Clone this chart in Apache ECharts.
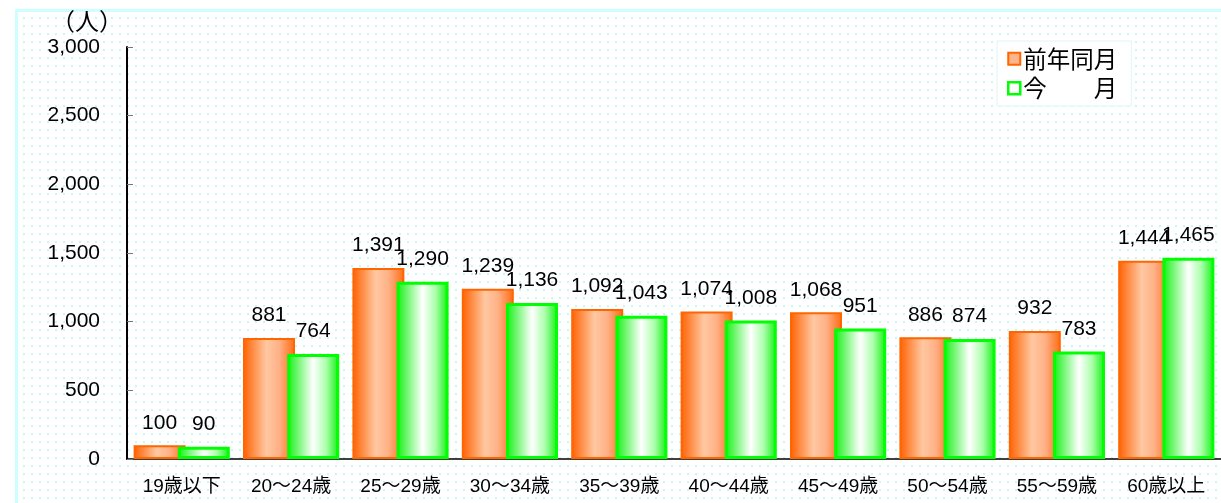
<!DOCTYPE html>
<html>
<head>
<meta charset="utf-8">
<script src="https://cdn.jsdelivr.net/npm/echarts@6/dist/echarts.min.js"></script>
<style>
html,body{margin:0;padding:0;background:#fff;overflow:hidden}
#frame{position:absolute;left:15px;top:9px;width:1300px;height:600px;
border-left:3px solid #ccffff;border-top:3px solid #ccffff;
background-image:radial-gradient(circle,#c6f6f6 1px,transparent 1.3px);
background-size:8px 8px;background-position:2px 2px}
#chart{position:absolute;left:0;top:0;width:1221px;height:503px}
</style>
</head>
<body>
<div id="frame"></div>
<div id="chart"></div>
<script>

// age groups
const categories = ["19歳以下","20～24歳","25～29歳","30～34歳","35～39歳","40～44歳","45～49歳","50～54歳","55～59歳","60歳以上"]

const lastYear = [100,881,1391,1239,1092,1074,1068,886,932,1444]
const thisMonth = [90,764,1290,1136,1043,1008,951,874,783,1465]

const seriesNames = ["前年同月","今　　月"]

const font = "'Liberation Sans','Noto Sans CJK JP',sans-serif"
const jpFont = "'Noto Sans CJK JP',sans-serif"

const chart = echarts.init(document.getElementById("chart"))

const orangeFill = new echarts.graphic.LinearGradient(0,0,1,0,[
{offset:0,color:"#ff6000"},
{offset:0.45,color:"#ffc8a2"},
{offset:0.7,color:"#ffb085"},
{offset:1,color:"#ff6a12"}
])

const greenFill = new echarts.graphic.LinearGradient(0,0,1,0,[
{offset:0,color:"#10f010"},
{offset:0.5,color:"#ffffff"},
{offset:0.75,color:"#aaffaa"},
{offset:1,color:"#10f010"}
])

const barLabel = {
show:true,
position:"top",
distance:12,
color:"#000",
fontSize:21,
fontFamily:font,
formatter:p => p.value.toLocaleString("en-US")
}

chart.setOption({

animation:false,

title:{
text:"（人）",
left:46,
top:4,
textStyle:{fontSize:24,fontWeight:"normal",color:"#000",fontFamily:jpFont}
},

legend:{
orient:"vertical",
left:997,
top:41,
padding:[6,14,6,10],
itemGap:6,
itemWidth:12,
itemHeight:12,
icon:"rect",
backgroundColor:"#ffffff",
borderColor:"#dff4f8",
borderWidth:1,
textStyle:{fontSize:23.5,color:"#000",fontFamily:jpFont,padding:[0,0,0,-2]},
data:[
{name:seriesNames[0],itemStyle:{color:"#ffb48a",borderColor:"#ff6600",borderWidth:2}},
{name:seriesNames[1],itemStyle:{color:"#ffffff",borderColor:"#00ff00",borderWidth:2.5}}
]
},

grid:{
left:127,
right:-7,
top:47,
bottom:44,
containLabel:false
},

xAxis:{
type:"category",
data:categories,
axisLine:{lineStyle:{color:"#000",width:1.5}},
axisTick:{inside:true,length:5,lineStyle:{color:"#888"}},
axisLabel:{fontSize:19,color:"#000",margin:18,fontFamily:font}
},

yAxis:{
type:"value",
min:0,
max:3000,
interval:500,
splitLine:{show:false},
axisLine:{show:true,lineStyle:{color:"#000",width:2}},
axisTick:{show:true,inside:true,length:6,lineStyle:{color:"#777"}},
axisLabel:{fontSize:21,color:"#000",margin:27,fontFamily:font,
formatter:v => v.toLocaleString("en-US")}
},

series:[
{
name:seriesNames[0],
type:"bar",
barWidth:52,
barGap:"-15%",
data:lastYear,
itemStyle:{color:orangeFill,borderColor:"#ff6600",borderWidth:2},
label:barLabel
},
{
name:seriesNames[1],
type:"bar",
barWidth:52,
barGap:"-15%",
data:thisMonth,
itemStyle:{color:greenFill,borderColor:"#00ff00",borderWidth:3},
label:barLabel
}
]

})

</script>
</body>
</html>
